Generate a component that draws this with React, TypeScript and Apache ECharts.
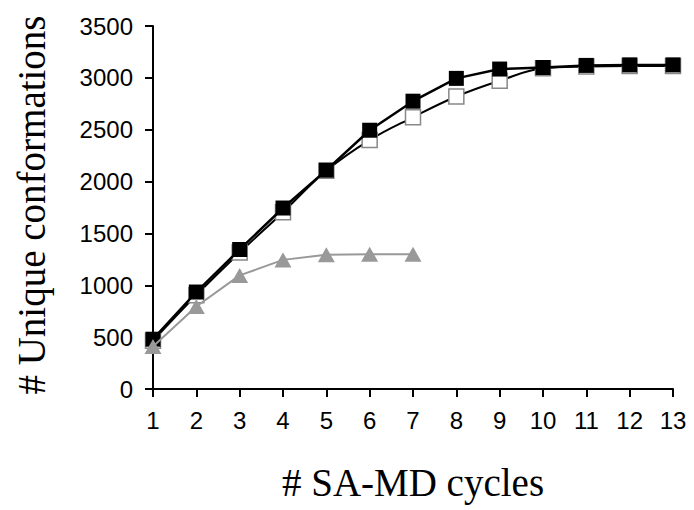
import React, { useEffect, useRef } from "react";
import * as echarts from "echarts";

const cycles = [1, 2, 3, 4, 5, 6, 7, 8, 9, 10, 11, 12, 13];
const filledSquares = [480, 935, 1345, 1745, 2110, 2495, 2775, 2995, 3085, 3100, 3120, 3125, 3125];
const openSquares = [465, 905, 1315, 1705, 2105, 2400, 2620, 2820, 2972, 3092, 3110, 3115, 3115];
const triangles = [410, 795, 1095, 1245, 1295, 1300, 1300];

const xTitle = "# SA-MD cycles";
const yTitle = "# Unique conformations";

export default function App() {
  const ref = useRef<HTMLDivElement>(null);
  useEffect(() => {
    if (!ref.current) return;
    const chart = echarts.init(ref.current, null, { renderer: "svg" });
    const pair = (vals: number[]) => vals.map((v, i) => [cycles[i], v]);
    chart.setOption({
      animation: false,
      backgroundColor: "#fff",
      grid: { left: 153, right: 21, top: 26, bottom: 121, containLabel: false },
      xAxis: {
        type: "value",
        min: 1,
        max: 13,
        interval: 1,
        axisLine: { show: true, lineStyle: { color: "#000", width: 2 } },
        axisTick: { show: true, inside: false, length: 8, lineStyle: { color: "#000", width: 2 } },
        axisLabel: {
          formatter: (v: number) => "{a|" + String(v) + "}",
          margin: 19,
          rich: { a: { fontFamily: "Liberation Sans", fontSize: 24, color: "#000" } },
        },
        splitLine: { show: false },
      },
      yAxis: {
        type: "value",
        min: 0,
        max: 3500,
        interval: 500,
        axisLine: { show: true, lineStyle: { color: "#000", width: 2 } },
        axisTick: { show: true, inside: false, length: 8, lineStyle: { color: "#000", width: 2 } },
        axisLabel: {
          formatter: (v: number) => "{a|" + String(v) + "}",
          margin: 20,
          rich: { a: { fontFamily: "Liberation Sans", fontSize: 24, color: "#000" } },
        },
        splitLine: { show: false },
      },
      graphic: [
        {
          type: "text",
          x: 413,
          y: 482,
          style: {
            text: xTitle,
            font: "39px 'Liberation Serif', 'Times New Roman', serif",
            fill: "#000",
            align: "center",
            verticalAlign: "middle",
          },
        },
        {
          type: "text",
          x: 31,
          y: 205,
          rotation: Math.PI / 2,
          style: {
            text: yTitle,
            font: "39px 'Liberation Serif', 'Times New Roman', serif",
            fill: "#000",
            align: "center",
            verticalAlign: "middle",
          },
        },
      ],
      series: [
        {
          type: "line",
          name: "open",
          data: pair(openSquares),
          smooth: 0.4,
          symbol: "rect",
          symbolSize: 15,
          itemStyle: { color: "#fff", borderColor: "#888", borderWidth: 1.5 },
          lineStyle: { color: "#000", width: 2 },
          z: 2,
        },
        {
          type: "line",
          name: "filled",
          data: pair(filledSquares),
          symbol: "rect",
          symbolSize: 15,
          itemStyle: { color: "#000", borderColor: "#000", borderWidth: 0 },
          lineStyle: { color: "#000", width: 2.5 },
          z: 3,
        },
        {
          type: "line",
          name: "tri",
          data: pair(triangles),
          symbol: "triangle",
          symbolSize: [17, 15],
          itemStyle: { color: "#999", borderWidth: 0 },
          lineStyle: { color: "#999", width: 2 },
          z: 4,
        },
      ],
    });
    return () => chart.dispose();
  }, []);
  return (
    <div
      ref={ref}
      style={{ position: "fixed", left: 0, top: 0, width: 694, height: 510, background: "#fff" }}
    />
  );
}
